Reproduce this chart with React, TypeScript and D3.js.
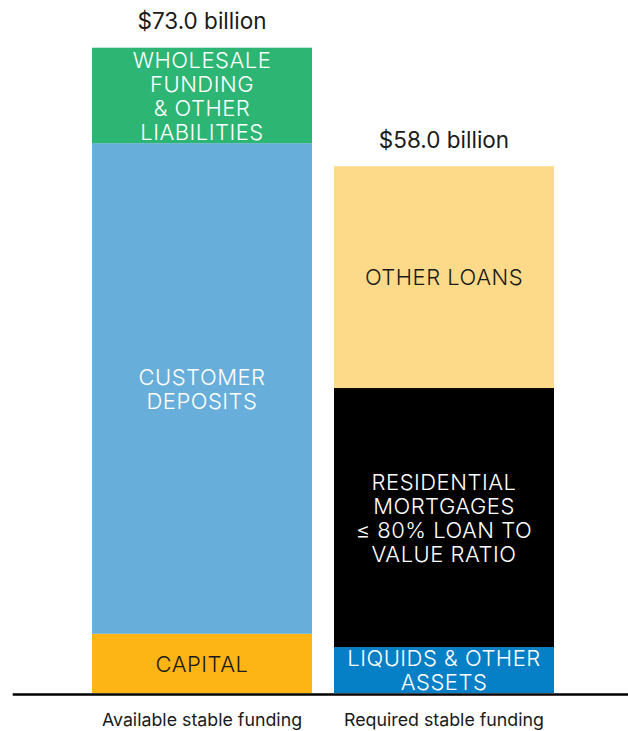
import React from "react";
import * as d3 from "d3";

const categories = ["Available stable funding", "Required stable funding"];
const totals = [73.0, 58.0];

const fundingLabels = [["CAPITAL"], ["CUSTOMER", "DEPOSITS"], ["WHOLESALE", "FUNDING", "& OTHER", "LIABILITIES"]];
const fundingValues = [6.7, 55.5, 10.8];
const fundingColors = ["#FCB515", "#67AEDA", "#2DB673"];
const fundingText = ["#1a1a1a", "#ffffff", "#ffffff"];

const requiredLabels = [["LIQUIDS & OTHER", "ASSETS"], ["RESIDENTIAL", "MORTGAGES", "\u2264 80% LOAN TO", "VALUE RATIO"], ["OTHER LOANS"]];
const requiredValues = [5.2, 29.3, 25.1];
const requiredColors = ["#0580C7", "#000000", "#FDD98A"];
const requiredText = ["#ffffff", "#ffffff", "#1a1a1a"];

const W = 628;
const H = 731;
const FONT = "Inter, 'Noto Sans', sans-serif";

export default function App() {
  const x = d3.scaleBand<string>().domain(categories).range([92, 554]).paddingInner(22 / 242).paddingOuter(0);
  const y = d3.scaleLinear().domain([0, 73]).range([693, 47.7]);

  const groups = [
    { labels: fundingLabels, values: fundingValues, colors: fundingColors, text: fundingText },
    { labels: requiredLabels, values: requiredValues, colors: requiredColors, text: requiredText },
  ];

  const fs = 22;
  const lh = 24;

  return (
    <div style={{ position: "absolute", left: 0, top: 0 }}>
      <svg width={W} height={H} style={{ display: "block", background: "#fff" }}>
        {groups.map((g, gi) => {
          const cat = categories[gi];
          const bx = x(cat) as number;
          const bw = x.bandwidth();
          const cx = bx + bw / 2;
          const stack = d3.cumsum(g.values);
          const top = y(stack[stack.length - 1]);
          return (
            <g key={cat}>
              {g.values.map((v, i) => {
                const y0 = y(i === 0 ? 0 : stack[i - 1]);
                const y1 = y(stack[i]);
                const mid = (y0 + y1) / 2;
                const lines = g.labels[i];
                return (
                  <g key={i}>
                    <rect x={bx} y={y1} width={bw} height={y0 - y1} fill={g.colors[i]} />
                    <text
                      textAnchor="middle"
                      fontFamily={FONT}
                      fontWeight={300}
                      fontSize={fs}
                      letterSpacing={0.5}
                      fill={g.text[i]}
                    >
                      {lines.map((ln, li) => (
                        <tspan key={li} x={cx} y={mid + (li - (lines.length - 1) / 2) * lh + fs * 0.37}>
                          {ln}
                        </tspan>
                      ))}
                    </text>
                  </g>
                );
              })}
              <text
                x={cx}
                y={top - 18.5}
                textAnchor="middle"
                fontFamily={FONT}
                fontWeight={400}
                fontSize={22.5}
                fill="#1a1a1a"
              >
                {`$${d3.format(".1f")(totals[gi])} billion`}
              </text>
              <text
                x={cx}
                y={726}
                textAnchor="middle"
                fontFamily={FONT}
                fontWeight={400}
                fontSize={17.8}
                fill="#1a1a1a"
              >
                {cat}
              </text>
            </g>
          );
        })}
        <line x1={12.7} x2={628} y1={694.5} y2={694.5} stroke="#000" strokeWidth={2.6} />
      </svg>
    </div>
  );
}
